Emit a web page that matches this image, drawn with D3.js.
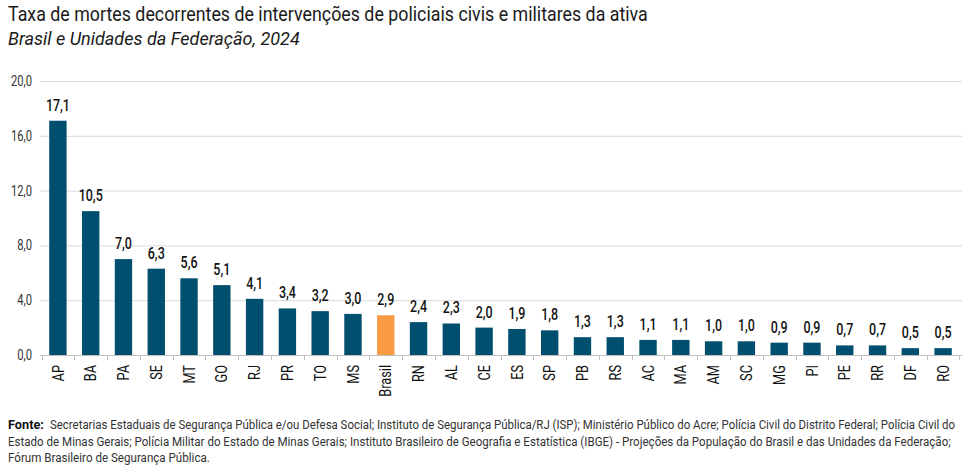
<!DOCTYPE html>
<html>
<head>
<meta charset="utf-8">
<script src="https://cdn.jsdelivr.net/npm/d3@7"></script>
<style>
  body { margin: 0; background: #fff; }
  svg { display: block; }
</style>
</head>
<body>
<div id="chart"></div>
<script>
const categories = ["AP", "BA", "PA", "SE", "MT", "GO", "RJ", "PR", "TO", "MS", "Brasil", "RN", "AL", "CE", "ES", "SP", "PB", "RS", "AC", "MA", "AM", "SC", "MG", "PI", "PE", "RR", "DF", "RO"];
const values = [17.1, 10.5, 7.0, 6.3, 5.6, 5.1, 4.1, 3.4, 3.2, 3.0, 2.9, 2.4, 2.3, 2.0, 1.9, 1.8, 1.3, 1.3, 1.1, 1.1, 1.0, 1.0, 0.9, 0.9, 0.7, 0.7, 0.5, 0.5];
const yTicks = [0, 4, 8, 12, 16, 20];
const highlight = "Brasil";

const title = "Taxa de mortes decorrentes de intervenções de policiais civis e militares da ativa";
const subtitle = "Brasil e Unidades da Federação, 2024";
const sourceLabel = "Fonte:";
const sourceLines = [
    "Secretarias Estaduais de Segurança Pública e/ou Defesa Social; Instituto de Segurança Pública/RJ (ISP); Ministério Público do Acre; Polícia Civil do Distrito Federal; Polícia Civil do",
    "Estado de Minas Gerais; Polícia Militar do Estado de Minas Gerais; Instituto Brasileiro de Geografia e Estatística (IBGE) - Projeções da População do Brasil e das Unidades da Federação;",
    "Fórum Brasileiro de Segurança Pública."
];

const width = 974, height = 476;
const font = "Roboto, 'Open Sans', sans-serif";
const fmt = function(v) { return d3.format(".1f")(v).replace(".", ","); };

const svg = d3.select("#chart")
    .append("svg")
    .attr("width", width)
    .attr("height", height);

// squeeze a text horizontally so it spans a given width (the original uses a condensed face)
function fitText(sel, x0, y0, target) {
    sel.each(function(d, i) {
        const node = this;
        const w = node.getComputedTextLength();
        const t = typeof target === "function" ? target(d, i) : target;
        const xx = typeof x0 === "function" ? x0(d, i) : x0;
        const yy = typeof y0 === "function" ? y0(d, i) : y0;
        d3.select(node).attr("transform", "translate(" + xx + "," + yy + ") scale(" + (t / w) + ",1)");
    });
}

const data = categories.map(function(c, i) { return { cat: c, val: values[i] }; });

const x = d3.scaleBand()
    .domain(categories)
    .range([42, 959])
    .paddingInner(0.47)
    .paddingOuter(0.22);

const y = d3.scaleLinear()
    .domain([0, 20])
    .range([355, 81]);

// title
svg.append("text")
    .attr("font-family", font)
    .attr("font-size", "20px")
    .attr("fill", "#1a1a1a")
    .text(title)
    .call(fitText, 8, 21, 640);

svg.append("text")
    .attr("font-family", font)
    .attr("font-style", "italic")
    .attr("font-size", "18px")
    .attr("fill", "#1a1a1a")
    .text(subtitle)
    .call(fitText, 8, 45, 292);

// gridlines
svg.append("g")
    .selectAll("line")
    .data(yTicks.filter(function(d) { return d > 0; }))
    .join("line")
    .attr("x1", 40).attr("x2", 962)
    .attr("y1", function(d) { return y(d) + 0.5; })
    .attr("y2", function(d) { return y(d) + 0.5; })
    .attr("stroke", "#d9d9d9")
    .attr("stroke-width", 1);

// y axis labels
svg.append("g")
    .selectAll("text")
    .data(yTicks)
    .join("text")
    .attr("transform", function(d) { return "translate(32," + y(d) + ") scale(0.8,1)"; })
    .attr("dy", "0.35em")
    .attr("text-anchor", "end")
    .attr("font-family", font)
    .attr("font-size", "14px")
    .attr("fill", "#333")
    .text(fmt);

// bars
svg.append("g")
    .selectAll("rect")
    .data(data)
    .join("rect")
    .attr("x", function(d) { return x(d.cat); })
    .attr("y", function(d) { return y(d.val); })
    .attr("width", x.bandwidth())
    .attr("height", function(d) { return y(0) - y(d.val); })
    .attr("fill", function(d) { return d.cat === highlight ? "#f89b42" : "#014f6e"; });

// value labels
svg.append("g")
    .selectAll("text")
    .data(data)
    .join("text")
    .attr("transform", function(d) {
        return "translate(" + (x(d.cat) + x.bandwidth() / 2) + "," + (y(d.val) - 10) + ") scale(0.78,1)";
    })
    .attr("text-anchor", "middle")
    .attr("font-family", font)
    .attr("font-weight", "500")
    .attr("font-size", "16px")
    .attr("fill", "#111")
    .text(function(d) { return fmt(d.val); });

// x axis baseline and ticks
const step = x.step();
svg.append("line")
    .attr("x1", 40).attr("x2", 962)
    .attr("y1", y(0) + 0.5).attr("y2", y(0) + 0.5)
    .attr("stroke", "#bfbfbf")
    .attr("stroke-width", 1);

const tickXs = categories.map(function(c) { return x(c) - (step - x.bandwidth()) / 2; });
tickXs.push(x(categories[categories.length - 1]) + x.bandwidth() + (step - x.bandwidth()) / 2);
svg.append("g")
    .selectAll("line")
    .data(tickXs)
    .join("line")
    .attr("x1", function(d) { return Math.round(d) + 0.5; })
    .attr("x2", function(d) { return Math.round(d) + 0.5; })
    .attr("y1", y(0)).attr("y2", y(0) + 5)
    .attr("stroke", "#bfbfbf");

// category labels
svg.append("g")
    .selectAll("text")
    .data(categories)
    .join("text")
    .attr("transform", function(d) {
        return "translate(" + (x(d) + x.bandwidth() / 2) + "," + (y(0) + 10) + ") rotate(-90) scale(0.8,1)";
    })
    .attr("text-anchor", "end")
    .attr("dy", "0.35em")
    .attr("font-family", font)
    .attr("font-size", "16px")
    .attr("fill", "#111")
    .text(function(d) { return d; });

// source
svg.append("text")
    .attr("font-family", font)
    .attr("font-weight", "bold")
    .attr("font-size", "13px")
    .attr("fill", "#111")
    .text(sourceLabel)
    .call(fitText, 8, 429, 36);

const srcStarts = [50, 8, 8];
const srcLengths = [906, 943, 202];
svg.append("g")
    .selectAll("text")
    .data(sourceLines)
    .join("text")
    .attr("font-family", font)
    .attr("font-size", "13px")
    .attr("fill", "#333")
    .text(function(d) { return d; })
    .call(fitText,
        function(d, i) { return srcStarts[i]; },
        function(d, i) { return 429 + i * 16.5; },
        function(d, i) { return srcLengths[i]; });
</script>
</body>
</html>
